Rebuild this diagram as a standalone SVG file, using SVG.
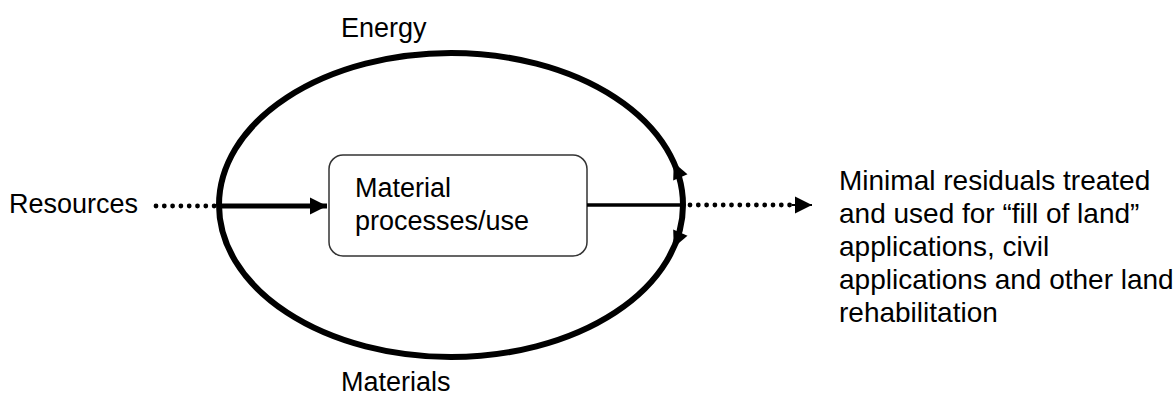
<svg xmlns="http://www.w3.org/2000/svg" width="1174" height="396" viewBox="0 0 1174 396">
  <style>
    text { font-family: "Liberation Sans", Arial, sans-serif; font-size: 27px; fill: #000; }
    .note { font-size: 28px; }
    .loop { fill: none; stroke: #000; stroke-width: 6; }
    .box { fill: #fff; stroke: #333; stroke-width: 1.5; }
    .solid { stroke: #000; fill: none; }
    .dots { stroke: #000; stroke-width: 4.8; stroke-linecap: round; stroke-dasharray: 0 8.3; fill: none; }
    .head { fill: #000; stroke: none; }
  </style>
  <defs>
    <marker id="arrow" viewBox="0 0 10 10" refX="10" refY="5" markerUnits="userSpaceOnUse" markerWidth="17" markerHeight="18" orient="auto">
      <path d="M0,0 L10,5 L0,10 Z" fill="#000"/>
    </marker>
  </defs>

  <!-- cycle loop -->
  <g id="cycle">
    <ellipse class="loop" cx="451" cy="205" rx="232" ry="152"/>
    <!-- direction heads on the right side of the loop -->
    <polygon class="head" points="673.7,162.4 687.5,174.2 673.2,180.5"/>
    <polygon class="head" points="673.7,247.6 687.5,235.8 673.2,229.5"/>
  </g>

  <g id="energy-label">
    <text x="341" y="37">Energy</text>
  </g>
  <g id="materials-label">
    <text x="341" y="391">Materials</text>
  </g>

  <g id="resources">
    <text x="9" y="213">Resources</text>
  </g>

  <g id="process">
    <rect class="box" x="329" y="155" width="258" height="101" rx="14" ry="14"/>
    <text x="355" y="197">Material</text>
    <text x="355" y="230">processes/use</text>
  </g>

  <g id="residuals">
    <text class="note" x="839" y="190">Minimal residuals treated</text>
    <text class="note" x="839" y="223">and used for “fill of land”</text>
    <text class="note" x="839" y="256">applications, civil</text>
    <text class="note" x="839" y="289">applications and other land</text>
    <text class="note" x="839" y="322">rehabilitation</text>
  </g>

  <!-- flows -->
  <g id="connectors">
    <line class="dots" x1="156" y1="206" x2="218" y2="206"/>
    <line class="solid" x1="220" y1="206" x2="327" y2="206" stroke-width="5" marker-end="url(#arrow)"/>
    <line class="solid" x1="587" y1="205" x2="683" y2="205" stroke-width="3.5"/>
    <line class="dots" x1="690" y1="205" x2="790" y2="205"/>
    <line class="solid" x1="792" y1="205" x2="812" y2="205" stroke-width="2" marker-end="url(#arrow)"/>
  </g>
</svg>
